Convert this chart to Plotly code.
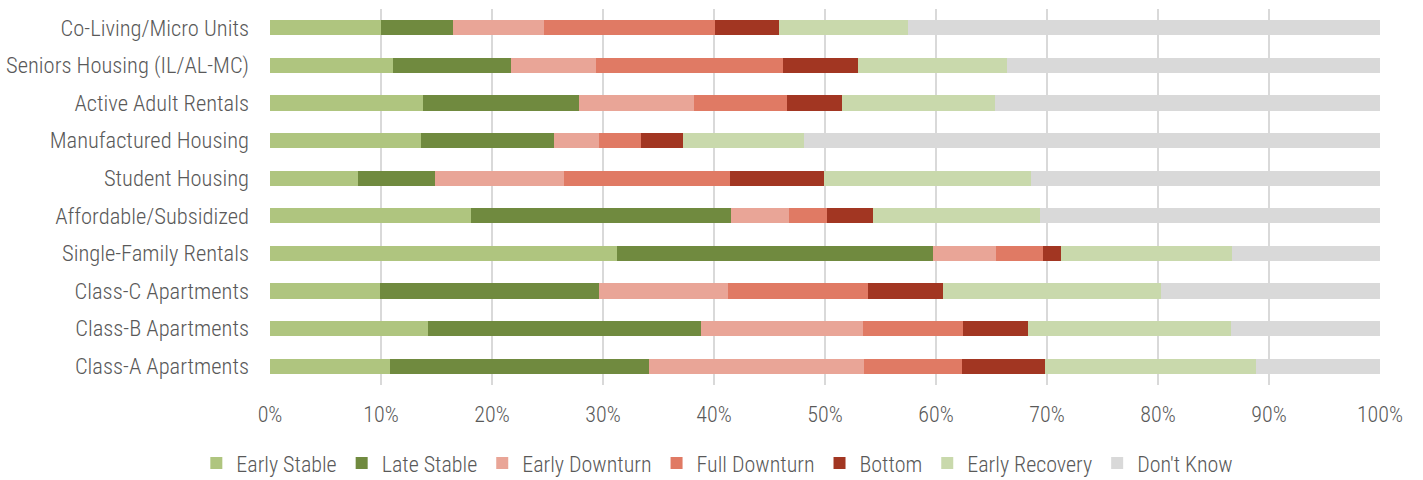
import plotly.graph_objects as go

# Property types, listed top to bottom
property_types = [
    "Co-Living/Micro Units",
    "Seniors Housing (IL/AL-MC)",
    "Active Adult Rentals",
    "Manufactured Housing",
    "Student Housing",
    "Affordable/Subsidized",
    "Single-Family Rentals",
    "Class-C Apartments",
    "Class-B Apartments",
    "Class-A Apartments",
]

# Share of respondents (%) placing each property type in each cycle phase
early_stable = [10.0, 11.1, 13.8, 13.6, 7.9, 18.1, 31.3, 9.9, 14.2, 10.8]
late_stable = [6.5, 10.6, 14.0, 12.0, 7.0, 23.4, 28.4, 19.7, 24.6, 23.3]
early_downturn = [8.2, 7.7, 10.4, 4.0, 11.6, 5.3, 5.7, 11.7, 14.6, 19.4]
full_downturn = [15.4, 16.8, 8.4, 3.8, 14.9, 3.4, 4.2, 12.6, 9.0, 8.8]
bottom = [5.8, 6.8, 4.9, 3.8, 8.5, 4.1, 1.7, 6.7, 5.9, 7.5]
early_recovery = [11.6, 13.4, 13.8, 10.9, 18.7, 15.1, 15.4, 19.7, 18.3, 19.0]
dont_know = [42.5, 33.6, 34.7, 51.9, 31.4, 30.6, 13.3, 19.7, 13.4, 11.2]

tick_values = [0, 10, 20, 30, 40, 50, 60, 70, 80, 90, 100]

series = [
    ("Early Stable", early_stable, "#AFC57F"),
    ("Late Stable", late_stable, "#708A3F"),
    ("Early Downturn", early_downturn, "#E9A597"),
    ("Full Downturn", full_downturn, "#E07A64"),
    ("Bottom", bottom, "#A23622"),
    ("Early Recovery", early_recovery, "#C9D9AC"),
    ("Don't Know", dont_know, "#D9D9D9"),
]

FONT = "Roboto Condensed, Liberation Sans Narrow, DejaVu Sans Condensed, Roboto, sans-serif"
TEXT_COLOR = "#595959"

fig = go.Figure()
for name, values, color in series:
    fig.add_trace(
        go.Bar(
            y=property_types,
            x=values,
            name=name,
            orientation="h",
            marker=dict(color=color, line=dict(width=0)),
            hoverinfo="x+y+name",
        )
    )

fig.update_layout(
    barmode="stack",
    bargap=0.6,
    width=1423,
    height=480,
    margin=dict(l=270, r=43, t=9, b=95, autoexpand=False),
    paper_bgcolor="white",
    plot_bgcolor="white",
    font=dict(family=FONT, size=22, color=TEXT_COLOR, weight=300),
    legend=dict(
        orientation="h",
        x=0.403,
        xanchor="center",
        y=-0.152,
        yanchor="top",
        font=dict(family=FONT, size=22, color=TEXT_COLOR, weight=300),
        itemwidth=30,
        traceorder="normal",
    ),
    xaxis=dict(
        range=[0, 100],
        tickvals=tick_values,
        ticktext=[f"{v}%" for v in tick_values],
        showgrid=True,
        gridcolor="#D9D9D9",
        gridwidth=2,
        zeroline=False,
        showline=False,
        ticks="",
        ticklabelstandoff=14,
        tickfont=dict(family=FONT, size=22, color=TEXT_COLOR, weight=300),
        fixedrange=True,
    ),
    yaxis=dict(
        autorange="reversed",
        showgrid=False,
        zeroline=False,
        showline=False,
        ticks="",
        ticklabelstandoff=20,
        tickfont=dict(family=FONT, size=22.5, color=TEXT_COLOR, weight=300),
        fixedrange=True,
    ),
)

fig.write_html("out.html")
